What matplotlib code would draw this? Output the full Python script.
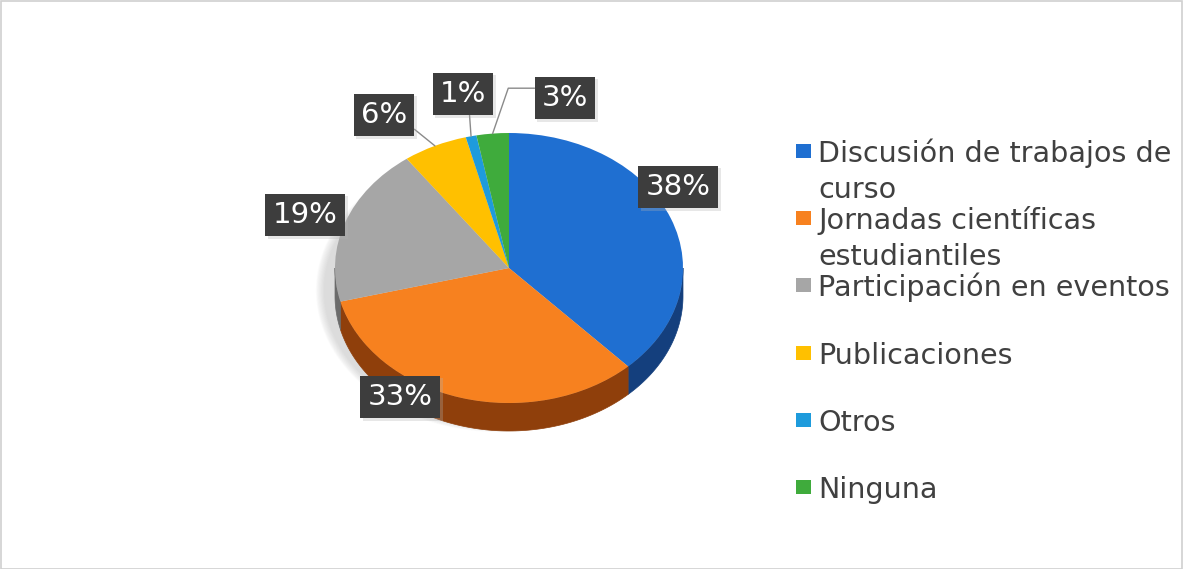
import numpy as np
import matplotlib
matplotlib.use("Agg")
import matplotlib.pyplot as plt
from matplotlib.patches import Rectangle, Polygon
import matplotlib.patheffects as pe

plt.rcParams["font.family"] = ["DejaVu Sans"]

# ---- data ----
categories = ["Discusión de trabajos de\ncurso", "Jornadas científicas\nestudiantiles",
              "Participación en eventos", "Publicaciones", "Otros", "Ninguna"]
values = [38, 33, 19, 6, 1, 3]
pct_labels = ["38%", "33%", "19%", "6%", "1%", "3%"]

top_colors = ["#1f6fd1", "#f7811f", "#a6a6a6", "#ffc000", "#1e9bdc", "#3fab3c"]
side_colors = ["#143f7d", "#8f3f0b", "#6b6b6b", "#a07800", "#13618a", "#276b25"]

W, H = 1183, 569
fig = plt.figure(figsize=(W / 100, H / 100), dpi=100)
fig.patch.set_facecolor("white")

def fx(px):
    return px / W

def fy(py):
    return 1 - py / H

# outer border
fig.add_artist(Rectangle((0.5 / W, 0.5 / H), 1 - 1.5 / W, 1 - 1.5 / H, transform=fig.transFigure,
                         fill=False, ec="#d0d0d0", lw=1.2))

# ---- pie axes (elliptical) ----
cx, cy, rx, ry = 509, 268, 174, 135
thick = 28 / ry
ax = fig.add_axes([fx(cx - 1.25 * rx), fy(cy + 1.25 * ry), 2.5 * rx / W, 2.5 * ry / H])
wedges, _ = ax.pie(values, colors=top_colors, startangle=90, counterclock=False,
                   wedgeprops=dict(linewidth=0, zorder=3))
ax.set_aspect("auto")
ax.set_xlim(-1.25, 1.25)
ax.set_ylim(-1.25, 1.25)
ax.axis("off")

# soft shadow under the pie
t = np.linspace(0, 2 * np.pi, 300)
n = 16
for k in range(n):
    s = 1.0 + 0.05 * (1 - k / n)
    ax.add_patch(Polygon(np.c_[-0.06 + s * np.cos(t), -thick * 0.8 + s * np.sin(t)],
                         closed=True, fc="#909090", ec="none", alpha=0.02, zorder=1))

# side band (front half)
for w, sc in zip(wedges, side_colors):
    t1, t2 = w.theta1, w.theta2
    for k in (-1, 0, 1):
        a = max(t1, -180 + 360 * k)
        b = min(t2, 360 * k)
        if b > a:
            tt = np.radians(np.linspace(a, b, 120))
            top = np.c_[np.cos(tt), np.sin(tt)]
            bot = np.c_[np.cos(tt[::-1]), np.sin(tt[::-1]) - thick]
            ax.add_patch(Polygon(np.vstack([top, bot]), closed=True, fc=sc, ec=sc,
                                 lw=0.5, zorder=2))

# ---- data labels ----
label_pos = [(678, 187), (400, 397), (305, 215), (384, 115), (463, 94), (565, 98)]
leader = {3: ((1.0, 0.2), "arc3"), 4: ((0.63, 0.0), "arc3"),
          5: ((0.0, 0.85), "angle,angleA=180,angleB=71,rad=0")}
box = dict(boxstyle="square,pad=0.25", fc="#3d3d3d", ec="none")
shadow = [pe.SimplePatchShadow(offset=(2, -2), shadow_rgbFace="#b0b0b0", alpha=0.3), pe.Normal()]
for i, (w, lab) in enumerate(zip(wedges, pct_labels)):
    px, py = label_pos[i]
    if i in leader:
        rel, cs = leader[i]
        mid = np.radians((w.theta1 + w.theta2) / 2)
        txt = ax.annotate(lab, xy=(np.cos(mid), np.sin(mid)), xycoords="data",
                          xytext=(fx(px), fy(py)), textcoords="figure fraction",
                          ha="center", va="center", fontsize=21, color="white", bbox=box,
                          arrowprops=dict(arrowstyle="-", color="#8a8a8a", lw=1.0,
                                          relpos=rel, connectionstyle=cs, shrinkA=0, shrinkB=0),
                          zorder=5, annotation_clip=False)
    else:
        txt = fig.text(fx(px), fy(py), lab, ha="center", va="center", fontsize=21,
                       color="white", bbox=box, zorder=5)
    txt.get_bbox_patch().set_path_effects(shadow)

# ---- legend ----
base, step, lstep = 162, 67.2, 35.5
for i, (cat, col) in enumerate(zip(categories, top_colors)):
    by = base + i * step
    fig.add_artist(Rectangle((fx(796), fy(by - 4)), 15 / W, 14 / H,
                             transform=fig.transFigure, fc=col, ec="none"))
    for j, line in enumerate(cat.split("\n")):
        fig.text(fx(818), fy(by + j * lstep), line, ha="left", va="baseline",
                 fontsize=20.6, color="#404040")

fig.savefig("out.png", dpi=100, facecolor="white")
